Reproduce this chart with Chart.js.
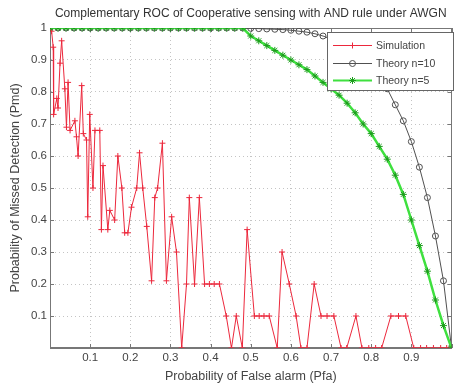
<!DOCTYPE html>
<html>
<head>
<meta charset="utf-8">
<script src="https://cdn.jsdelivr.net/npm/chart.js@4/dist/chart.umd.min.js"></script>
<style>
  html, body { margin: 0; padding: 0; background: #fff; }
  #wrap { width: 456px; height: 385px; }
</style>
</head>
<body>
<div id="wrap"><canvas id="rocChart" width="456" height="385"></canvas></div>
<script>
// Simulation (red, '+')
const simX = [0, 0.004, 0.008, 0.009, 0.017, 0.02, 0.025, 0.029, 0.037, 0.041,
  0.045, 0.05, 0.062, 0.066, 0.07, 0.079, 0.083, 0.091, 0.094, 0.099,
  0.107, 0.112, 0.124, 0.128, 0.132, 0.144, 0.149, 0.161, 0.169, 0.179,
  0.186, 0.194, 0.203, 0.216, 0.223, 0.231, 0.241, 0.253, 0.261, 0.268,
  0.28, 0.29, 0.303, 0.315, 0.328, 0.34, 0.347, 0.36, 0.372, 0.385,
  0.397, 0.409, 0.422, 0.439, 0.452, 0.464, 0.479, 0.491, 0.509, 0.521,
  0.533, 0.546, 0.566, 0.578, 0.596, 0.613, 0.625, 0.64, 0.658, 0.675,
  0.69, 0.707, 0.725, 0.739, 0.762, 0.777, 0.794, 0.811, 0.826, 0.849,
  0.868, 0.886, 0.906, 0.923, 0.938, 0.955, 0.973, 0.988, 1.0];
const simY = [1, 0.99, 0.94, 0.73, 0.78, 0.75, 0.89, 0.96, 0.81, 0.69,
  0.83, 0.68, 0.71, 0.66, 0.6, 0.82, 0.67, 0.65, 0.41, 0.73,
  0.5, 0.68, 0.68, 0.37, 0.57, 0.37, 0.43, 0.4, 0.6, 0.5,
  0.36, 0.36, 0.44, 0.5, 0.61, 0.5, 0.38, 0.21, 0.47, 0.5,
  0.64, 0.21, 0.41, 0.3, 0, 0.2, 0.47, 0.2, 0.47, 0.2,
  0.2, 0.2, 0.2, 0.1, 0, 0.1, 0, 0.37, 0.1, 0.1,
  0.1, 0.1, 0, 0.3, 0.2, 0.1, 0, 0, 0.2, 0.1,
  0.1, 0.1, 0, 0, 0.1, 0, 0, 0, 0, 0.1,
  0.1, 0.1, 0, 0, 0, 0, 0, 0, 0];

// Theory n=10 (black, 'o')
const t10X = [0, 0.02, 0.04, 0.06, 0.08, 0.1, 0.12, 0.14, 0.16, 0.18,
  0.2, 0.22, 0.24, 0.26, 0.28, 0.3, 0.32, 0.34, 0.36, 0.38,
  0.4, 0.42, 0.44, 0.46, 0.48, 0.5, 0.52, 0.54, 0.56, 0.58,
  0.6, 0.62, 0.64, 0.66, 0.68, 0.7, 0.72, 0.74, 0.76, 0.78,
  0.8, 0.82, 0.84, 0.86, 0.88, 0.9, 0.92, 0.94, 0.96, 0.98, 1.0];
const t10Y = [1, 1, 1, 1, 1, 1, 1, 1, 1, 1,
  1, 1, 1, 1, 1, 1, 1, 1, 1, 1,
  1, 1, 1, 1, 1, 0.999, 0.998, 0.997, 0.996, 0.995,
  0.993, 0.99, 0.987, 0.982, 0.975, 0.965, 0.95, 0.935, 0.915, 0.89,
  0.865, 0.84, 0.81, 0.76, 0.71, 0.645, 0.565, 0.47, 0.35, 0.21, 0];

// Theory n=5 (green, '*')
const t5X = [0, 0.02, 0.04, 0.06, 0.08, 0.1, 0.12, 0.14, 0.16, 0.18,
  0.2, 0.22, 0.24, 0.26, 0.28, 0.3, 0.32, 0.34, 0.36, 0.38,
  0.4, 0.42, 0.44, 0.46, 0.48, 0.5, 0.52, 0.54, 0.56, 0.58,
  0.6, 0.62, 0.64, 0.66, 0.68, 0.7, 0.72, 0.74, 0.76, 0.78,
  0.8, 0.82, 0.84, 0.86, 0.88, 0.9, 0.92, 0.94, 0.96, 0.98, 1.0];
const t5Y = [1, 1, 1, 1, 1, 1, 1, 1, 1, 1,
  1, 1, 1, 1, 1, 1, 1, 1, 1, 1,
  1, 1, 1, 1, 1, 0.975, 0.96, 0.945, 0.93, 0.915,
  0.9, 0.885, 0.87, 0.85, 0.83, 0.81, 0.79, 0.765, 0.735, 0.7,
  0.67, 0.63, 0.59, 0.54, 0.48, 0.4, 0.32, 0.24, 0.15, 0.07, 0];

const seriesNames = ['Simulation', 'Theory n=10', 'Theory n=5'];
const chartTitle = 'Complementary ROC of Cooperative sensing with AND rule under AWGN';
const xTitle = 'Probability of False alarm (Pfa)';
const yTitle = 'Probability of Missed Detection (Pmd)';

function toPoints(xs, ys) {
  return xs.map((x, i) => ({ x: x, y: ys[i] }));
}

const FONT = '"Liberation Sans", Arial, sans-serif';
Chart.defaults.font.family = FONT;
Chart.defaults.font.size = 11.5;
Chart.defaults.color = '#444';

const styles = [
  { color: 'rgb(236,40,60)', point: 'cross', radius: 3, fill: 'rgba(0,0,0,0)', width: 1 },
  { color: '#505050', point: 'circle', radius: 3, fill: 'rgba(0,0,0,0)', width: 1 },
  { color: '#3fe03f', point: 'star', radius: 3.5, fill: 'rgba(0,0,0,0)', width: 2.5, marker: '#1c9c1c' }
];

function drawMarker(ctx, st, x, y) {
  ctx.save();
  ctx.strokeStyle = st.marker || st.color;
  ctx.lineWidth = 1;
  const r = st.radius;
  ctx.beginPath();
  if (st.point === 'circle') {
    ctx.arc(x, y, r, 0, Math.PI * 2);
  } else {
    ctx.moveTo(x - r, y); ctx.lineTo(x + r, y);
    ctx.moveTo(x, y - r); ctx.lineTo(x, y + r);
    if (st.point === 'star') {
      const d = r * 0.7;
      ctx.moveTo(x - d, y - d); ctx.lineTo(x + d, y + d);
      ctx.moveTo(x - d, y + d); ctx.lineTo(x + d, y - d);
    }
  }
  ctx.stroke();
  ctx.restore();
}

// MATLAB-like axes box, inner ticks, title and legend
const matlabPlugin = {
  id: 'matlabPlugin',
  beforeDatasetsDraw(chart) {
    const { ctx, chartArea: a, scales } = chart;
    ctx.save();
    ctx.strokeStyle = '#777';
    ctx.lineWidth = 1;
    ctx.strokeRect(Math.round(a.left) + 0.5, Math.round(a.top) + 0.5,
      Math.round(a.width) - 1, Math.round(a.height) - 1);
    ctx.beginPath();
    scales.x.ticks.forEach(t => {
      const px = Math.round(scales.x.getPixelForValue(t.value)) + 0.5;
      ctx.moveTo(px, a.bottom); ctx.lineTo(px, a.bottom - 4);
      ctx.moveTo(px, a.top); ctx.lineTo(px, a.top + 4);
    });
    scales.y.ticks.forEach(t => {
      const py = Math.round(scales.y.getPixelForValue(t.value)) + 0.5;
      ctx.moveTo(a.left, py); ctx.lineTo(a.left + 4, py);
      ctx.moveTo(a.right, py); ctx.lineTo(a.right - 4, py);
    });
    ctx.stroke();
    ctx.restore();
  },
  afterDraw(chart) {
    const { ctx, chartArea: a } = chart;
    ctx.save();
    // title
    ctx.font = '12px ' + FONT;
    ctx.fillStyle = '#333';
    ctx.textAlign = 'center';
    ctx.textBaseline = 'middle';
    ctx.fillText(chartTitle, (a.left + a.right) / 2, 14);

    // legend box
    const bx = 327, by = 32, bw = 126, bh = 58;
    ctx.fillStyle = '#fff';
    ctx.fillRect(bx, by, bw, bh);
    ctx.strokeStyle = '#666';
    ctx.lineWidth = 1;
    ctx.strokeRect(bx + 0.5, by + 0.5, bw, bh);
    ctx.font = '10.5px ' + FONT;
    const rows = [45, 63, 80];
    seriesNames.forEach((name, i) => {
      const st = styles[i];
      const y = rows[i];
      ctx.strokeStyle = st.color;
      ctx.lineWidth = i === 2 ? 2 : 1;
      ctx.beginPath();
      ctx.moveTo(333, y + 0.5); ctx.lineTo(372, y + 0.5);
      ctx.stroke();
      drawMarker(ctx, st, 352.5, y + 0.5);
      ctx.fillStyle = '#444';
      ctx.textAlign = 'left';
      ctx.textBaseline = 'middle';
      ctx.fillText(name, 376, y + 1);
    });
    ctx.restore();
  }
};

const ctxEl = document.getElementById('rocChart');
const datasets = [
  { label: seriesNames[0], data: toPoints(simX, simY), order: 1 },
  { label: seriesNames[1], data: toPoints(t10X, t10Y), order: 2 },
  { label: seriesNames[2], data: toPoints(t5X, t5Y), order: 0 }
].map((ds, i) => {
  const st = styles[i];
  return Object.assign(ds, {
    borderColor: st.color,
    borderWidth: st.width,
    pointStyle: st.point,
    pointRadius: st.radius,
    pointBorderColor: st.marker || st.color,
    pointBackgroundColor: st.fill,
    pointBorderWidth: 1,
    pointHoverRadius: st.radius,
    tension: 0,
    fill: false
  });
});

new Chart(ctxEl, {
  type: 'line',
  data: { datasets: datasets },
  options: {
    responsive: false,
    animation: false,
    layout: { padding: { top: 28, right: 3, left: 0, bottom: 0 } },
    plugins: {
      legend: { display: false },
      title: { display: false },
      tooltip: { enabled: false }
    },
    scales: {
      x: {
        type: 'linear',
        min: 0,
        max: 1,
        afterFit: function(scale) { scale.height = 37; },
        ticks: {
          stepSize: 0.1,
          autoSkip: false,
          maxRotation: 0,
          padding: 3,
          color: '#444',
          callback: function(v) { return (v <= 0 || v >= 1) ? '' : v.toFixed(1); }
        },
        grid: { color: '#c4c4c4', lineWidth: 1, drawTicks: false },
        border: { color: '#777', dash: [1, 3] },
        title: { display: true, text: xTitle, color: '#444', font: { size: 12.5 }, padding: { top: 0, bottom: 1 } }
      },
      y: {
        min: 0,
        max: 1,
        afterFit: function(scale) { scale.width = 50; },
        ticks: {
          stepSize: 0.1,
          autoSkip: false,
          padding: 3,
          color: '#444',
          callback: function(v) { return v <= 0 ? '' : (v >= 1 ? '1' : v.toFixed(1)); }
        },
        grid: { color: '#c4c4c4', lineWidth: 1, drawTicks: false },
        border: { color: '#777', dash: [1, 3] },
        title: { display: true, text: yTitle, color: '#444', font: { size: 12.5 }, padding: { top: 8, bottom: 0 } }
      }
    }
  },
  plugins: [matlabPlugin]
});
</script>
</body>
</html>
